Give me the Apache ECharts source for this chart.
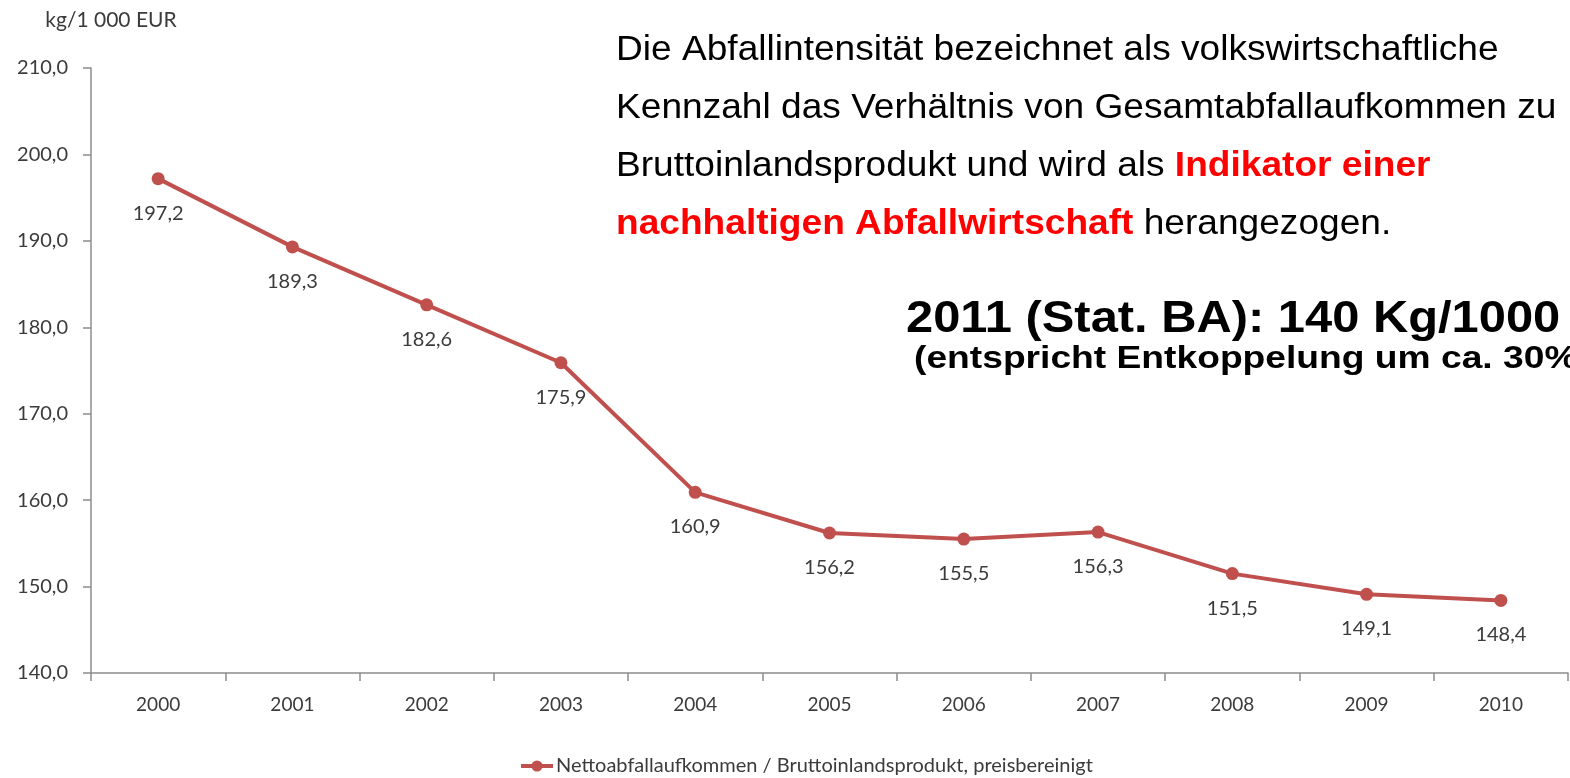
<!DOCTYPE html>
<html><head><meta charset="utf-8">
<script src="https://cdn.jsdelivr.net/npm/echarts@6/dist/echarts.min.js"></script>
<style>html,body{margin:0;padding:0;background:#fff}#c{width:1570px;height:778px}</style>
</head><body><div id="c"></div>
<script>
const years = ['2000','2001','2002','2003','2004','2005','2006','2007','2008','2009','2010'];
const values = [197.2,189.3,182.6,175.9,160.9,156.2,155.5,156.3,151.5,149.1,148.4];
const seriesName = 'Nettoabfallaufkommen / Bruttoinlandsprodukt, preisbereinigt';
const unitLabel = 'kg/1 000 EUR';
const yTicks = {min:140, max:210, interval:10};

const fmt = v => v.toFixed(1).replace('.', ',');
const chart = echarts.init(document.getElementById('c'));
const font = 'Lato, "Noto Sans", sans-serif';
const arial = '"Liberation Sans", Arial, sans-serif';
const txt = '#3b3b3b';
chart.setOption({
  animation:false,
  backgroundColor:'#fff',
  grid:{left:91,right:2,top:68,bottom:105,containLabel:false},
  legend:{
    top:751, left:514, itemWidth:32, itemHeight:14, itemGap:10,
    lineStyle:{width:4},
    textStyle:{fontFamily:font,fontSize:20,color:txt,padding:[0,0,0,-2]},
    data:[seriesName]
  },
  xAxis:{
    type:'category', data:years, boundaryGap:true,
    axisLine:{lineStyle:{color:'#8c8c8c',width:1.5}},
    axisTick:{show:true,length:8,lineStyle:{color:'#8c8c8c',width:1.5}},
    axisLabel:{fontFamily:font,fontSize:19,color:txt,margin:22}
  },
  yAxis:{
    type:'value', min:yTicks.min, max:yTicks.max, interval:yTicks.interval,
    name:unitLabel, nameLocation:'end', nameGap:37,
    nameTextStyle:{fontFamily:font,fontSize:21,color:txt,align:'center',padding:[0,0,0,40]},
    axisLine:{show:true,lineStyle:{color:'#8c8c8c',width:1.5}},
    axisTick:{show:true,length:8,lineStyle:{color:'#8c8c8c',width:1.5}},
    splitLine:{show:false},
    axisLabel:{fontFamily:font,fontSize:20,color:txt,margin:23,formatter:fmt}
  },
  series:[{
    name:seriesName, type:'line', data:values,
    symbol:'circle', symbolSize:13,
    lineStyle:{color:'#c0504d',width:4},
    itemStyle:{color:'#c0504d'},
    label:{show:true,position:'bottom',distance:18,fontFamily:font,fontSize:20,color:txt,formatter:p=>fmt(p.value)}
  }],
  graphic:[
    {type:'text',x:616,y:21,scaleX:1.06,style:{
      x:0,y:0,verticalAlign:'top',
      text:'Die Abfallintensität bezeichnet als volkswirtschaftliche\nKennzahl das Verhältnis von Gesamtabfallaufkommen zu\nBruttoinlandsprodukt und wird als {r|Indikator einer}\n{r|nachhaltigen Abfallwirtschaft} herangezogen.',
      font:'35px '+arial, fill:'#000', lineHeight:58,
      rich:{r:{fill:'#ff0000',fontWeight:'bold',fontSize:35,fontFamily:arial,lineHeight:58}}
    }},
    {type:'text',x:906,y:320,scaleX:1.11,style:{
      x:0,y:0,verticalAlign:'middle',
      text:'2011 (Stat. BA): 140 Kg/1000 €',
      font:'bold 44px '+arial, fill:'#000'
    }},
    {type:'text',x:914,y:359,scaleX:1.2,style:{
      x:0,y:0,verticalAlign:'middle',
      text:'(entspricht Entkoppelung um ca. 30%)',
      font:'bold 31px '+arial, fill:'#000'
    }}
  ]
});
</script></body></html>
